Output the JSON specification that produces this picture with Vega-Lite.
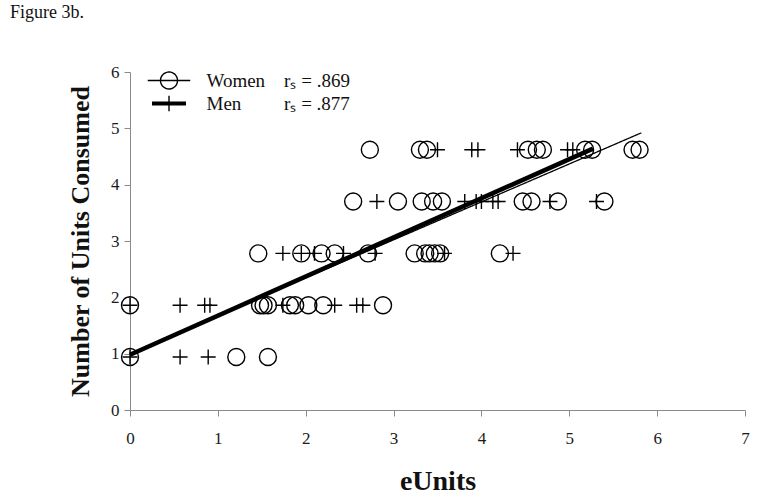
{
  "$schema": "https://vega.github.io/schema/vega-lite/v6.json",
  "width": 615,
  "height": 338,
  "autosize": {"type": "none"},
  "padding": {"left": 130, "top": 72, "right": 17, "bottom": 90},
  "background": "white",
  "title": {
    "text": "Figure 3b.",
    "anchor": "start",
    "frame": "group",
    "dx": -120,
    "offset": 41,
    "font": "Liberation Serif",
    "fontSize": 18,
    "fontWeight": "normal",
    "color": "#111"
  },
  "config": {
    "view": {"stroke": null},
    "axis": {
      "grid": false,
      "domainColor": "#8a8a8a",
      "tickColor": "#8a8a8a",
      "tickSize": 6,
      "labelFont": "Liberation Serif",
      "labelFontSize": 17,
      "labelColor": "#1a1a1a",
      "labelFlush": false,
      "labelOverlap": false,
      "format": "d",
      "titleFont": "Liberation Serif",
      "titleFontWeight": "bold",
      "titleColor": "#111"
    },
    "legend": {
      "orient": "none",
      "padding": 0,
      "symbolSize": 289,
      "symbolStrokeWidth": 1.4,
      "symbolStrokeColor": "black",
      "symbolFillColor": "transparent",
      "labelOffset": 28,
      "labelFont": "Liberation Serif",
      "labelFontSize": 19,
      "labelColor": "#111",
      "labelLimit": 300
    }
  },
  "datasets": {
    "pts": [
      {"sex": "Women", "x": 2.73, "y": 4.62},
      {"sex": "Women", "x": 3.30, "y": 4.62},
      {"sex": "Women", "x": 3.38, "y": 4.62},
      {"sex": "Women", "x": 4.53, "y": 4.62},
      {"sex": "Women", "x": 4.63, "y": 4.62},
      {"sex": "Women", "x": 4.70, "y": 4.62},
      {"sex": "Women", "x": 5.18, "y": 4.62},
      {"sex": "Women", "x": 5.26, "y": 4.62},
      {"sex": "Women", "x": 5.72, "y": 4.62},
      {"sex": "Women", "x": 5.80, "y": 4.62},
      {"sex": "Men", "x": 3.50, "y": 4.62},
      {"sex": "Men", "x": 3.89, "y": 4.62},
      {"sex": "Men", "x": 3.96, "y": 4.62},
      {"sex": "Men", "x": 4.41, "y": 4.62},
      {"sex": "Men", "x": 4.98, "y": 4.62},
      {"sex": "Men", "x": 5.04, "y": 4.62},
      {"sex": "Women", "x": 2.54, "y": 3.70},
      {"sex": "Women", "x": 3.05, "y": 3.70},
      {"sex": "Women", "x": 3.32, "y": 3.70},
      {"sex": "Women", "x": 3.45, "y": 3.70},
      {"sex": "Women", "x": 3.55, "y": 3.70},
      {"sex": "Women", "x": 4.47, "y": 3.70},
      {"sex": "Women", "x": 4.57, "y": 3.70},
      {"sex": "Women", "x": 4.87, "y": 3.70},
      {"sex": "Women", "x": 5.40, "y": 3.70},
      {"sex": "Men", "x": 2.81, "y": 3.70},
      {"sex": "Men", "x": 3.81, "y": 3.70},
      {"sex": "Men", "x": 3.94, "y": 3.70},
      {"sex": "Men", "x": 4.00, "y": 3.70},
      {"sex": "Men", "x": 4.13, "y": 3.70},
      {"sex": "Men", "x": 4.19, "y": 3.70},
      {"sex": "Men", "x": 4.78, "y": 3.70},
      {"sex": "Men", "x": 5.31, "y": 3.70},
      {"sex": "Women", "x": 1.46, "y": 2.78},
      {"sex": "Women", "x": 1.95, "y": 2.78},
      {"sex": "Women", "x": 2.18, "y": 2.78},
      {"sex": "Women", "x": 2.33, "y": 2.78},
      {"sex": "Women", "x": 2.71, "y": 2.78},
      {"sex": "Women", "x": 3.24, "y": 2.78},
      {"sex": "Women", "x": 3.36, "y": 2.78},
      {"sex": "Women", "x": 3.41, "y": 2.78},
      {"sex": "Women", "x": 3.47, "y": 2.78},
      {"sex": "Women", "x": 3.53, "y": 2.78},
      {"sex": "Women", "x": 4.21, "y": 2.78},
      {"sex": "Men", "x": 1.74, "y": 2.78},
      {"sex": "Men", "x": 1.95, "y": 2.78},
      {"sex": "Men", "x": 2.10, "y": 2.78},
      {"sex": "Men", "x": 2.43, "y": 2.78},
      {"sex": "Men", "x": 2.79, "y": 2.78},
      {"sex": "Men", "x": 3.58, "y": 2.78},
      {"sex": "Men", "x": 4.36, "y": 2.78},
      {"sex": "Women", "x": 0.00, "y": 1.86},
      {"sex": "Women", "x": 1.48, "y": 1.86},
      {"sex": "Women", "x": 1.52, "y": 1.86},
      {"sex": "Women", "x": 1.57, "y": 1.86},
      {"sex": "Women", "x": 1.82, "y": 1.86},
      {"sex": "Women", "x": 1.88, "y": 1.86},
      {"sex": "Women", "x": 2.03, "y": 1.86},
      {"sex": "Women", "x": 2.20, "y": 1.86},
      {"sex": "Women", "x": 2.88, "y": 1.86},
      {"sex": "Men", "x": 0.00, "y": 1.86},
      {"sex": "Men", "x": 0.57, "y": 1.86},
      {"sex": "Men", "x": 0.85, "y": 1.86},
      {"sex": "Men", "x": 0.91, "y": 1.86},
      {"sex": "Men", "x": 1.74, "y": 1.86},
      {"sex": "Men", "x": 2.33, "y": 1.86},
      {"sex": "Men", "x": 2.58, "y": 1.86},
      {"sex": "Men", "x": 2.65, "y": 1.86},
      {"sex": "Women", "x": 0.00, "y": 0.94},
      {"sex": "Women", "x": 1.21, "y": 0.94},
      {"sex": "Women", "x": 1.57, "y": 0.94},
      {"sex": "Men", "x": 0.00, "y": 0.94},
      {"sex": "Men", "x": 0.57, "y": 0.94},
      {"sex": "Men", "x": 0.89, "y": 0.94}
    ],
    "trend": [
      {"sex": "Men", "x": 0, "y": 0.98},
      {"sex": "Men", "x": 5.27, "y": 4.64},
      {"sex": "Women", "x": 0, "y": 1.0},
      {"sex": "Women", "x": 5.82, "y": 4.92}
    ]
  },
  "encoding": {
    "x": {"field": "x", "type": "quantitative", "scale": {"domain": [0, 7], "nice": false},
          "axis": {"values": [0,1,2,3,4,5,6,7], "labelPadding": 14, "title": "eUnits", "titleFontSize": 28, "titleY": 71, "titleBaseline": "middle"}},
    "y": {"field": "y", "type": "quantitative", "scale": {"domain": [0, 6], "nice": false},
          "axis": {"values": [0,1,2,3,4,5,6], "labelPadding": 5, "title": "Number of Units Consumed", "titleFontSize": 26, "titleX": -50, "titleY": 169, "titleAngle": -90, "titleAlign": "center", "titleBaseline": "middle"}}
  },
  "layer": [
    {
      "data": {"name": "trend"},
      "transform": [{"filter": "datum.sex == 'Men'"}],
      "mark": {"type": "line", "strokeWidth": 4.5, "strokeCap": "butt"},
      "encoding": {
        "color": {"field": "sex", "type": "nominal", "scale": {"domain": ["Men"], "range": ["black"]},
                  "legend": {"title": null, "legendX": 29.5, "legendY": 22,
                             "symbolType": "M-2,-0.16H2M-2,0H2M-2,0.16H2M0,-0.9V0.9",
                             "labelExpr": "'Men\u00a0\u00a0\u00a0\u00a0\u00a0\u00a0\u00a0\u00a0 rₛ = .877'"}}
      }
    },
    {
      "data": {"name": "trend"},
      "transform": [{"filter": "datum.sex == 'Women'"}],
      "mark": {"type": "line", "color": "black", "strokeWidth": 1.3, "strokeCap": "butt"},
      "encoding": {
        "strokeDash": {"field": "sex", "type": "nominal", "scale": {"domain": ["Women"], "range": [[1, 0]]},
                       "legend": {"title": null, "legendX": 29.5, "legendY": -1,
                                  "symbolType": "M-2.5,0H2.5M-1,0A1,1 0 1,1 1,0A1,1 0 1,1 -1,0",
                                  "labelExpr": "'Women\u00a0\u00a0\u00a0 rₛ = .869'"}}
      }
    },
    {
      "data": {"name": "pts"},
      "mark": {"type": "point", "filled": false, "color": "black", "strokeWidth": 1.4, "opacity": 1, "size": 289},
      "encoding": {
        "shape": {
          "field": "sex", "type": "nominal",
          "scale": {"domain": ["Women", "Men"], "range": ["circle", "M-0.88,0H0.88M0,-0.88V0.88"]},
          "legend": null
        }
      }
    }
  ]
}
